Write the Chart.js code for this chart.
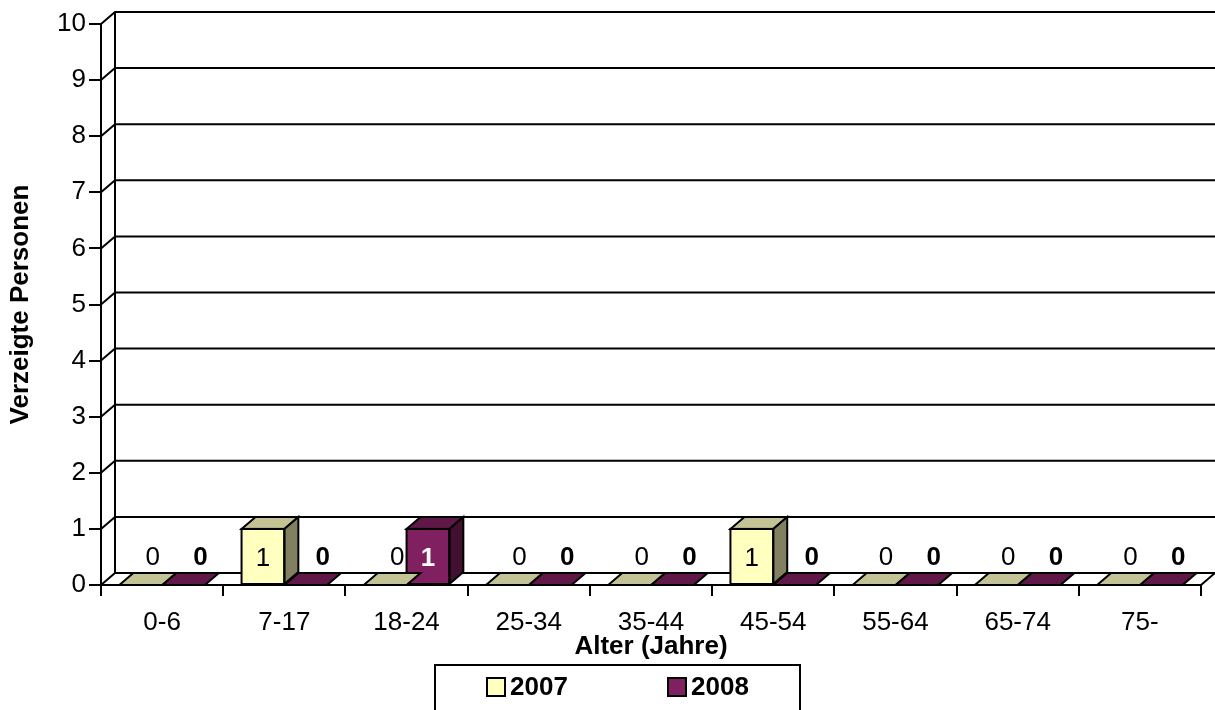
<!DOCTYPE html>
<html lang="de">
<head>
<meta charset="utf-8">
<title>Verzeigte Personen nach Alter</title>
<script src="https://cdn.jsdelivr.net/npm/chart.js@4.4.1/dist/chart.umd.min.js"></script>
<style>
    html, body { margin: 0; padding: 0; background: #fff; }
    #ageChart { display: block; }
</style>
</head>
<body>
<canvas id="ageChart" width="1215" height="710"></canvas>
<script>
const ageGroups = ['0-6', '7-17', '18-24', '25-34', '35-44', '45-54', '55-64', '65-74', '75-'];
const values2007 = [0, 1, 0, 0, 0, 1, 0, 0, 0];
const values2008 = [0, 0, 1, 0, 0, 0, 0, 0, 0];
const seriesNames = ['2007', '2008'];
const yMin = 0;
const yMax = 10;
const yStep = 1;

// pseudo 3d depth of the Excel style chart
const DEPTH_X = 14;
const DEPTH_Y = 12;
const FONT = '"Liberation Sans", Arial, sans-serif';
const FONT_SIZE = 26;

const faceColors = [
    { front: '#FFFFC0', top: '#C3C395', side: '#818161' },
    { front: '#802060', top: '#5F1847', side: '#41112F' }
];

function polygon(ctx, pts, fill) {
    ctx.beginPath();
    ctx.moveTo(pts[0][0], pts[0][1]);
    for (let i = 1; i < pts.length; i++) ctx.lineTo(pts[i][0], pts[i][1]);
    ctx.closePath();
    ctx.fillStyle = fill;
    ctx.fill();
    ctx.stroke();
}

// back wall, side wall and floor
const walls3d = {
    id: 'walls3d',
    beforeDatasetsDraw(chart) {
        const { ctx, chartArea: { left, right, top, bottom }, scales: { y } } = chart;
        ctx.save();
        ctx.strokeStyle = '#000';
        ctx.lineWidth = 2;
        ctx.beginPath();
        y.ticks.forEach(t => {
            const py = y.getPixelForValue(t.value);
            ctx.moveTo(left, py);
            ctx.lineTo(left + DEPTH_X, py - DEPTH_Y);
            ctx.lineTo(right + DEPTH_X, py - DEPTH_Y);
        });
        ctx.moveTo(left + DEPTH_X, top - DEPTH_Y);
        ctx.lineTo(left + DEPTH_X, bottom - DEPTH_Y);
        ctx.moveTo(right, bottom);
        ctx.lineTo(right + DEPTH_X, bottom - DEPTH_Y);
        ctx.stroke();
        ctx.restore();
    }
};

// top and side faces of each bar
const bars3d = {
    id: 'bars3d',
    afterDatasetDraw(chart, args) {
        const ctx = chart.ctx;
        const colors = faceColors[args.index];
        ctx.save();
        ctx.strokeStyle = '#000';
        ctx.lineWidth = 2;
        args.meta.data.forEach(bar => {
            const { x, y, base, width } = bar.getProps(['x', 'y', 'base', 'width'], true);
            const l = x - width / 2;
            const r = x + width / 2;
            polygon(ctx, [[l, y], [l + DEPTH_X, y - DEPTH_Y], [r + DEPTH_X, y - DEPTH_Y], [r, y]], colors.top);
            if (base - y > 0.5) {
                polygon(ctx, [[r, y], [r + DEPTH_X, y - DEPTH_Y], [r + DEPTH_X, base - DEPTH_Y], [r, base]], colors.side);
                ctx.strokeRect(l, y, width, base - y);
            }
        });
        ctx.restore();
    }
};

// value labels, 2008 in bold like the original
const valueLabels = {
    id: 'valueLabels',
    afterDatasetsDraw(chart) {
        const ctx = chart.ctx;
        const zeroShift = [12, 17];
        ctx.save();
        ctx.textAlign = 'center';
        ctx.textBaseline = 'middle';
        chart.data.datasets.forEach((ds, i) => {
            const meta = chart.getDatasetMeta(i);
            ctx.font = (i === 1 ? 'bold ' : '') + FONT_SIZE + 'px ' + FONT;
            meta.data.forEach((bar, j) => {
                const v = ds.data[j];
                if (v > 0) {
                    ctx.fillStyle = i === 1 ? '#fff' : '#000';
                    ctx.fillText(String(v), bar.x, (bar.y + bar.base) / 2 + 2);
                } else {
                    ctx.fillStyle = '#000';
                    ctx.fillText(String(v), bar.x + zeroShift[i], bar.base - 27);
                }
            });
        });
        ctx.restore();
    }
};

// boxed legend under the axis title
const boxLegend = {
    id: 'boxLegend',
    afterDraw(chart) {
        const ctx = chart.ctx;
        const boxLeft = 435, boxTop = 665, boxW = 365;
        const itemX = [487, 668];
        const midY = 687;
        ctx.save();
        ctx.strokeStyle = '#000';
        ctx.lineWidth = 2;
        ctx.strokeRect(boxLeft, boxTop, boxW, 60);
        ctx.font = 'bold ' + FONT_SIZE + 'px ' + FONT;
        ctx.textBaseline = 'middle';
        ctx.textAlign = 'left';
        chart.data.datasets.forEach((ds, i) => {
            ctx.fillStyle = ds.backgroundColor;
            ctx.fillRect(itemX[i], midY - 9, 18, 18);
            ctx.strokeRect(itemX[i], midY - 9, 18, 18);
            ctx.fillStyle = '#000';
            ctx.fillText(ds.label, itemX[i] + 23, midY + 1);
        });
        ctx.restore();
    }
};

function createAgeChart() {
    const ctx = document.getElementById('ageChart').getContext('2d');
    Chart.defaults.font.family = FONT;
    Chart.defaults.color = '#000';

    new Chart(ctx, {
        type: 'bar',
        data: {
            labels: ageGroups,
            datasets: [
                { label: seriesNames[0], data: values2007, backgroundColor: faceColors[0].front, borderWidth: 0 },
                { label: seriesNames[1], data: values2008, backgroundColor: faceColors[1].front, borderWidth: 0 }
            ]
        },
        options: {
            responsive: false,
            animation: false,
            events: [],
            categoryPercentage: 0.7,
            barPercentage: 1.0,
            layout: {
                padding: { left: 0, right: 14, top: 24, bottom: 48 }
            },
            plugins: {
                legend: { display: false },
                tooltip: { enabled: false }
            },
            scales: {
                x: {
                    grid: { drawOnChartArea: false, color: '#000', lineWidth: 2, tickLength: 11 },
                    border: { display: true, color: '#000', width: 2 },
                    ticks: { font: { size: FONT_SIZE }, padding: 11, maxRotation: 0 },
                    title: {
                        display: true,
                        text: 'Alter (Jahre)',
                        font: { size: FONT_SIZE, weight: 'bold' },
                        padding: { top: 0, bottom: 0 }
                    },
                    afterFit(scale) { scale.height = 77; }
                },
                y: {
                    min: yMin,
                    max: yMax,
                    grid: { drawOnChartArea: false, color: '#000', lineWidth: 2, tickLength: 12 },
                    border: { display: true, color: '#000', width: 2 },
                    ticks: { stepSize: yStep, font: { size: FONT_SIZE }, padding: 3 },
                    title: {
                        display: true,
                        text: 'Verzeigte Personen',
                        font: { size: FONT_SIZE, weight: 'bold' },
                        padding: { top: 5, bottom: 0 }
                    },
                    afterFit(scale) { scale.width = 101; }
                }
            }
        },
        plugins: [walls3d, bars3d, valueLabels, boxLegend]
    });
}

document.addEventListener('DOMContentLoaded', createAgeChart);
</script>
</body>
</html>
